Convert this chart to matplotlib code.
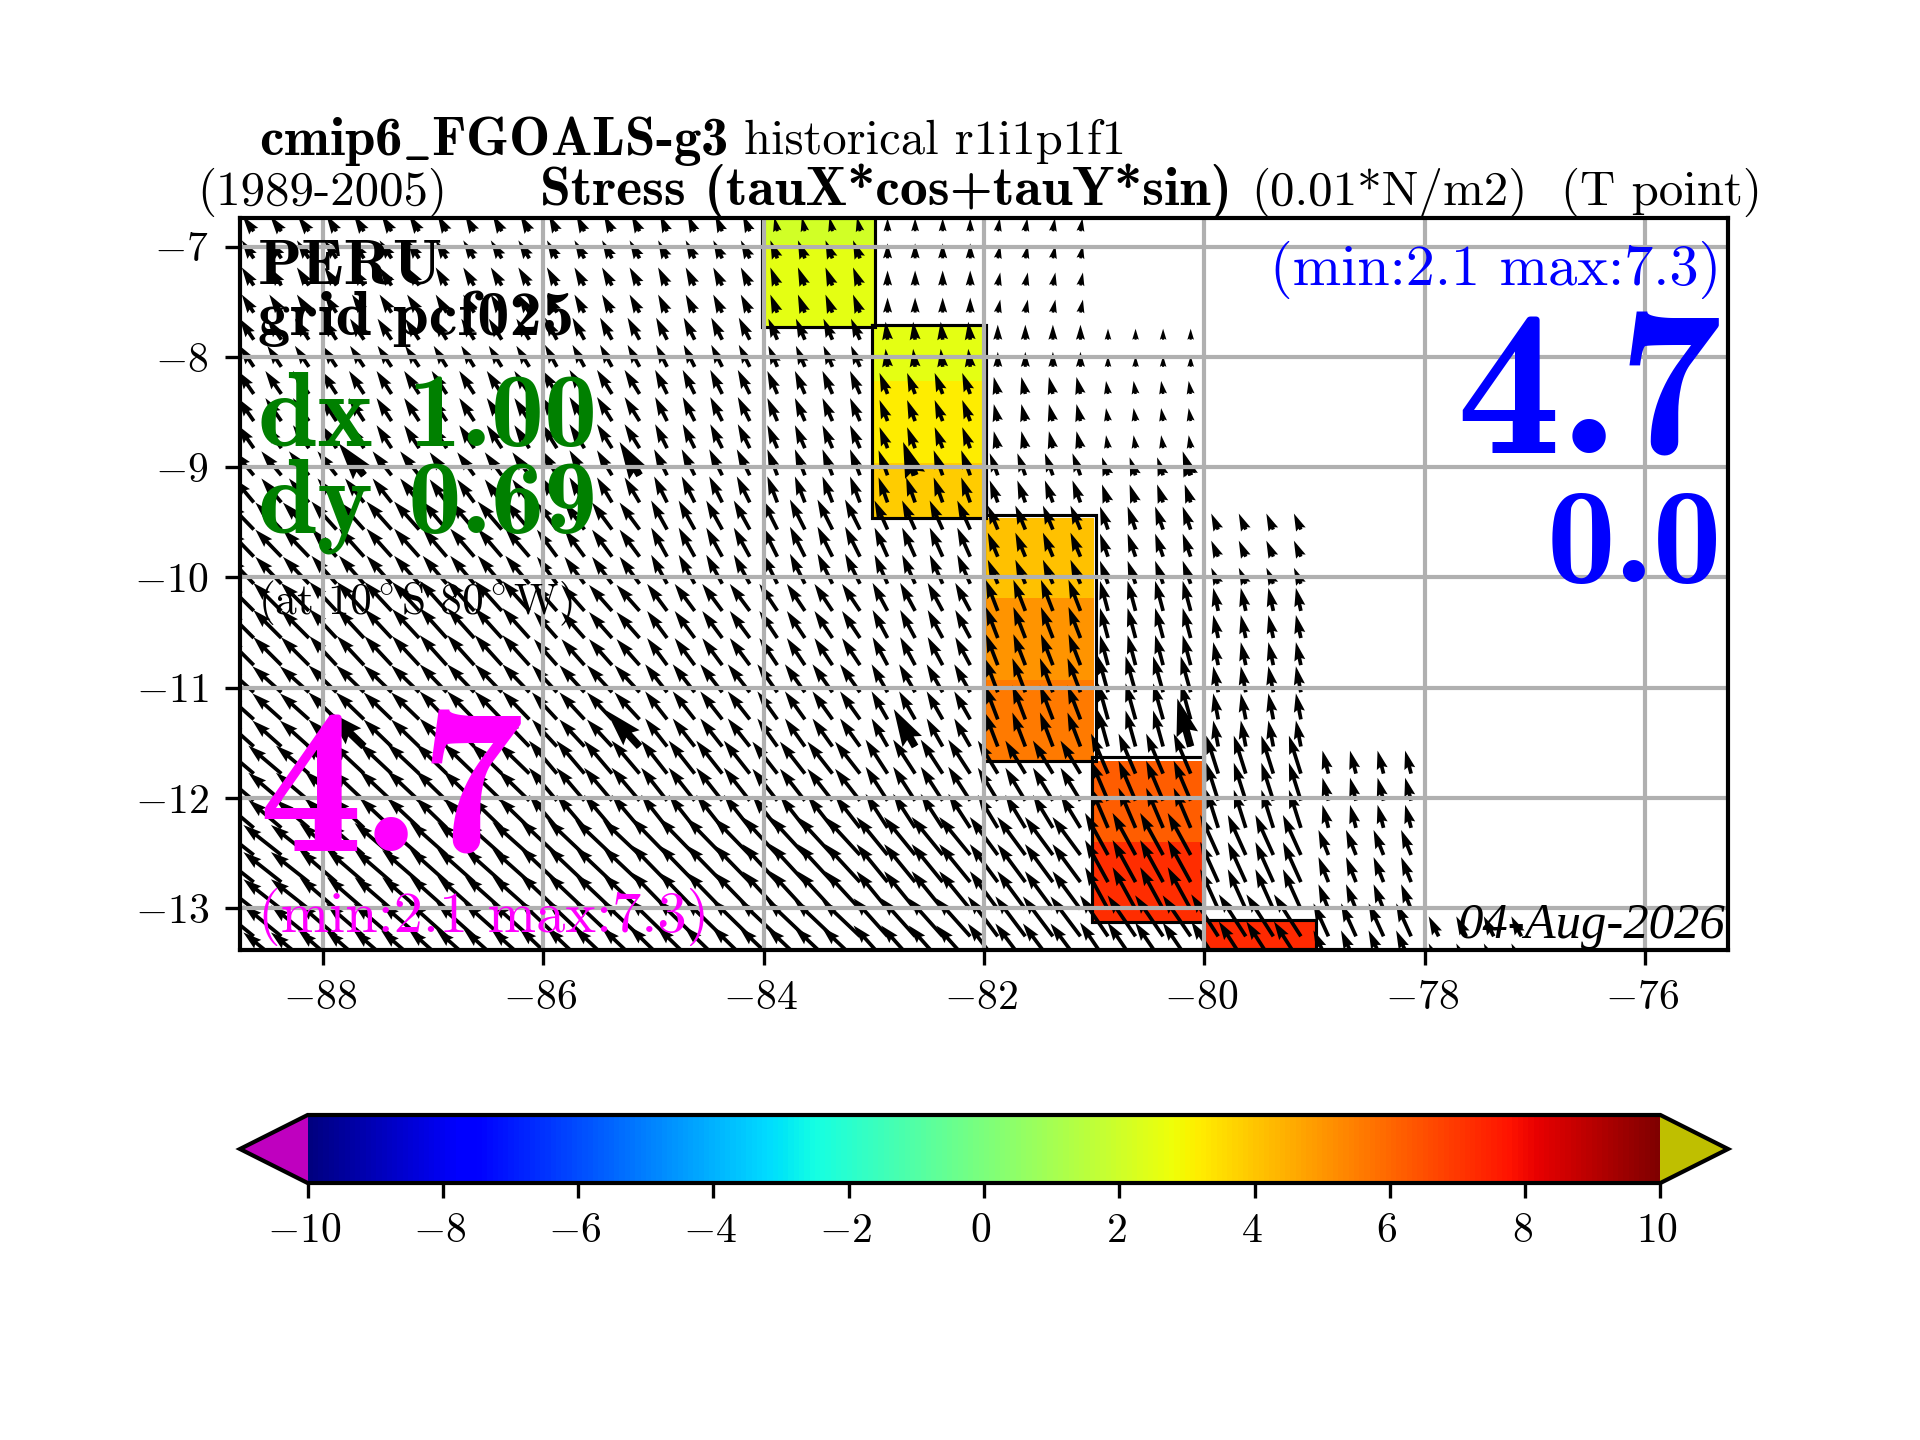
import numpy as np
import matplotlib
matplotlib.use("Agg")
import matplotlib.pyplot as plt
from matplotlib.colors import Normalize
from matplotlib.transforms import ScaledTranslation

plt.rcParams['font.family'] = ['cmr10', 'DejaVu Serif']
plt.rcParams['mathtext.fontset'] = 'cm'
plt.rcParams['axes.formatter.use_mathtext'] = True

nan = float('nan')
# arrow grid
lon_arrow = [-88.875 + 0.25 * i for i in range(56)]
lat_arrow = [-6.86 - 0.246 * k for k in range(28)]
row_block = [0, 1, 1, 1, 2, 2, 3, 3, 3, 4, 4, 5, 5, 5, 6, 6, 6, 7, 7, 7, 8, 8, 8, 9, 9, 9, 10, 10]
# stress components, one row per source latitude, one column per 1-degree cell from 89W
u_stress = [
    [-11, -10, -9, -8, -7, -3, 0, 2, nan, nan, nan, nan, nan, nan],
    [-12, -12, -11, -10, -9, -7, 0, 2.5, nan, nan, nan, nan, nan, nan],
    [-14, -14, -13, -12, -11, -9, -2, 0, 0, nan, nan, nan, nan, nan],
    [-16, -15, -15, -15, -12, -10, -8, -4, -2, nan, nan, nan, nan, nan],
    [-20, -19, -17, -15, -13, -10, -9, -8, -6, nan, nan, nan, nan, nan],
    [-26, -25, -24, -20, -16, -15, -13, -10, -8, -7, nan, nan, nan, nan],
    [-28, -27, -27, -23, -20, -18, -15, -12, -8, -5, nan, nan, nan, nan],
    [-29, -28, -27, -25, -22, -20, -16, -13, -10, -5, nan, nan, nan, nan],
    [-33, -32, -31, -28, -26, -25, -22, -20, -17, -12, -6, nan, nan, nan],
    [-38, -37, -37, -37, -36, -35, -31, -28, -23, -18, -10, nan, nan, nan],
    [-38, -38, -38, -38, -38, -38, -34, -30, -28, -27, -15, -10, nan, nan],
]
v_stress = [
    [15, 16, 16, 16, 16, 14, 13, 13, nan, nan, nan, nan, nan, nan],
    [18, 18, 18, 18, 18, 18, 15, 13, nan, nan, nan, nan, nan, nan],
    [21, 21, 21, 22, 22, 21, 18, 15, 11, nan, nan, nan, nan, nan],
    [23, 23, 23, 24, 24, 23, 21, 17, 13, nan, nan, nan, nan, nan],
    [24, 24, 23, 25, 26, 26, 25, 22, 18, nan, nan, nan, nan, nan],
    [27, 28, 28, 27, 29, 30, 29, 24, 23, 16, nan, nan, nan, nan],
    [28, 29, 30, 26, 27, 27, 28, 31, 30, 23, nan, nan, nan, nan],
    [26, 27, 28, 27, 28, 28, 28, 34, 36, 26, nan, nan, nan, nan],
    [28, 30, 30, 33, 33, 32, 34, 33, 40, 38, 23, nan, nan, nan],
    [30, 32, 33, 35, 37, 38, 38, 38, 42, 40, 25, nan, nan, nan],
    [31, 33, 34, 36, 37, 36, 38, 40, 41, 42, 33, 20, nan, nan],
]
# coastal band values
lon_edges = list(range(-89, -74))
lat_edges = [-6.6, -6.98, -7.72, -8.22, -8.96, -9.46, -10.19, -10.93, -11.67, -12.40, -13.13, -13.6]
band_column = [5, 5, 6, 6, 6, 7, 7, 7, 8, 8, 9]
band_value = [2.1, 2.5, 2.5, 3.2, 3.9, 4.1, 5.0, 5.6, 6.2, 7.2, 7.3]
# outlines of the coastal boxes: west, east, north, south
box_west = [-84.015, -83.015, -82.0, -81.02, -80.0]
box_east = [-82.99, -81.985, -80.985, -80.0, -78.985]
box_north = [-6.5, -7.71, -9.43, -11.63, -13.11]
box_south = [-7.73, -9.46, -11.67, -13.13, -13.6]
# highlighted arrows (indices on the arrow grid)
bold_lon_index = [5, 15, 25, 35]
bold_lat_index = [9, 19]

xticks = [-88, -86, -84, -82, -80, -78, -76]
yticks = [-7, -8, -9, -10, -11, -12, -13]
cbar_ticks = list(range(-10, 11, 2))

W, H = 1920, 1440
fig = plt.figure(figsize=(6.4, 4.8), dpi=300)
ax = fig.add_axes([240 / W, 1 - 950 / H, 1488 / W, 732 / H])
ax.set_xlim(-88.75, -75.25)
ax.set_ylim(-13.38, -6.74)

cmap = plt.get_cmap('jet').copy()
cmap.set_under((0.75, 0, 0.75))
cmap.set_over((0.75, 0.75, 0))
norm = Normalize(-10, 10)

field = np.full((len(band_value), len(lon_edges) - 1), np.nan)
for r, (c, val) in enumerate(zip(band_column, band_value)):
    field[r, c] = val
mesh = ax.pcolormesh(lon_edges, lat_edges, np.ma.masked_invalid(field), cmap=cmap, norm=norm, zorder=1)

for w, e, n, s in zip(box_west, box_east, box_north, box_south):
    ax.plot([w, e, e, w, w], [n, n, s, s, n], color='k', lw=0.75, zorder=1.1, solid_joinstyle='miter')

U = np.repeat(np.array(u_stress, float)[row_block], 4, axis=1)[:, :56]
V = np.repeat(np.array(v_stress, float)[row_block], 4, axis=1)[:, :56]
XX, YY = np.meshgrid(lon_arrow, lat_arrow)
ok = np.isfinite(U)
ax.quiver(XX[ok], YY[ok], U[ok], V[ok], angles='uv', units='width', scale_units='width',
          scale=1488, width=0.0025, zorder=1.2, color='k')
bi = np.ix_(bold_lat_index, bold_lon_index)
bok = np.isfinite(U[bi])
ax.quiver(XX[bi][bok], YY[bi][bok], U[bi][bok], V[bi][bok], angles='uv', units='width', scale_units='width',
          scale=1488 * 0.75, width=0.005, zorder=1.2, color='k')

ax.set_xticks(xticks, [f'${v}$' for v in xticks], fontsize=10)
ax.set_yticks(yticks, [f'${v}$' for v in yticks], fontsize=10)
ax.grid(True, color='#b0b0b0', lw=1.0)
ax.set_axisbelow(False)
for s in ax.spines.values():
    s.set_linewidth(1.0)
    s.set_zorder(2.6)

cax = fig.add_axes([240 / W, 1 - 1183 / H, 1488 / W, 68 / H])
cb = fig.colorbar(mesh, cax=cax, orientation='horizontal', extend='both', extendfrac=0.05)
cb.set_ticks(cbar_ticks, labels=[f'${v}$' for v in cbar_ticks])
cb.ax.tick_params(labelsize=10)
cb.outline.set_linewidth(1.0)

shift_x = ScaledTranslation(-3 / 300, 0, fig.dpi_scale_trans)
shift_y = ScaledTranslation(-2 / 300, 0, fig.dpi_scale_trans)
for lab in ax.get_xticklabels() + cb.ax.get_xticklabels():
    lab.set_transform(lab.get_transform() + shift_x)
for lab in ax.get_yticklabels():
    lab.set_transform(lab.get_transform() + shift_y)


def T(x, y, s, size, color='k', ha='left', family=None, **kw):
    return fig.text(x / W, 1 - y / H, s, fontsize=size, color=color, ha=ha, va='baseline',
                    family=family or ['cmr10', 'DejaVu Serif'], zorder=5, **kw)


BOLD = ['cmb10', 'cmr10', 'DejaVu Serif']
T(259, 155, r'cmip6$\_$FGOALS-g3', 13.2, family=BOLD)
T(744, 154.5, 'historical r1i1p1f1', 11.65)
T(197, 205, '(1989-2005)', 11.75)
T(540, 205, 'Stress (tauX*cos+tauY*sin)', 13.35, family=BOLD)
T(1251, 205, '(0.01*N/m2)', 11.75)
T(1561, 205, '(T point)', 11.75)

T(258, 283, 'PERU', 15.5, family=BOLD)
T(258, 335, 'grid pcf025', 15.5, family=BOLD)
T(258, 446, 'dx 1.00', 25.5, color='green', family=BOLD)
T(258, 533, 'dy 0.69', 25.5, color='green', family=BOLD)
T(258, 614, r'(at 10$^\circ$S 80$^\circ$W)', 10.4)
T(258, 852, '4.7', 50, color='magenta', family=BOLD)
T(258, 932, '(min:2.1 max:7.3)', 14, color='magenta')

T(1721, 285, '(min:2.1 max:7.3)', 14, color='blue', ha='right')
T(1722, 453, '4.7', 50, color='blue', ha='right', family=BOLD)
T(1722, 582, '0.0', 33, color='blue', ha='right', family=BOLD)
T(1725, 938, '04-Aug-2026', 12.2, ha='right', family='Liberation Serif', style='italic')

fig.savefig('out.png', dpi=300)
